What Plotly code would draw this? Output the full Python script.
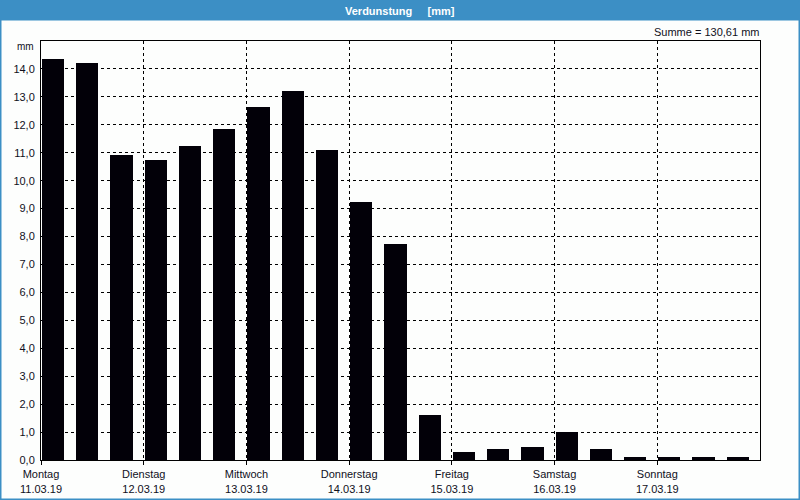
import plotly.graph_objects as go

# Data: evaporation per 8-hour period (3 per day), mm
values = [14.37, 14.22, 10.93,
          10.75, 11.25, 11.86,
          12.65, 13.22, 11.11,
          9.22, 7.75, 1.60,
          0.29, 0.38, 0.45,
          1.00, 0.38, 0.10,
          0.10, 0.10, 0.10]
day_names = ["Montag", "Dienstag", "Mittwoch", "Donnerstag", "Freitag", "Samstag", "Sonntag"]
day_dates = ["11.03.19", "12.03.19", "13.03.19", "14.03.19", "15.03.19", "16.03.19", "17.03.19"]
y_ticks = [0, 1, 2, 3, 4, 5, 6, 7, 8, 9, 10, 11, 12, 13, 14]
title_text = "Verdunstung&nbsp;&nbsp;&nbsp;&nbsp; [mm]"
sum_text = "Summe = 130,61 mm"

W, H = 800, 500
L, R, T, B = 41, 40, 41, 40
pw, ph = W - L - R, H - T - B

def px_x(px):
    return (px - L) / pw

def px_y(py):
    return (H - B - py) / ph

periods = list(range(len(values)))
tickvals = [3 * i for i in range(len(day_names))]
ticktext = [f"{n}<br>{d}" for n, d in zip(day_names, day_dates)]

FONT = "Liberation Sans"
TXT = "#10101c"
BLUE = "#3c8fc5"

fig = go.Figure()
fig.add_trace(go.Bar(
    x=periods, y=values, width=0.65, offset=0.027,
    marker=dict(color="#020008", line=dict(width=0)),
    hoverinfo="x+y",
))

fig.update_layout(
    width=W, height=H,
    margin=dict(l=L, r=R, t=T, b=B, pad=0),
    paper_bgcolor="#fdfefd", plot_bgcolor="#fdfefd",
    separators=",.",
    showlegend=False,
    font=dict(family=FONT, size=11, color=TXT),
    bargap=0,
)
fig.update_xaxes(
    range=[0, 21], tickmode="array", tickvals=tickvals, ticktext=ticktext,
    showgrid=True, gridcolor="black", gridwidth=1, griddash="3px,3px",
    showline=True, linecolor="black", linewidth=1, mirror=True,
    ticks="outside", ticklen=4, tickcolor="black",
    zeroline=False, fixedrange=True, automargin=False,
    tickfont=dict(family=FONT, size=11, color=TXT),
)
fig.update_yaxes(
    range=[0, 15], tickmode="array", tickvals=y_ticks, tickformat=".1f",
    showgrid=True, gridcolor="black", gridwidth=1, griddash="3px,3px",
    showline=True, linecolor="black", linewidth=1, mirror=True,
    ticks="", zeroline=False, fixedrange=True, ticklabelstandoff=3, automargin=False,
    tickfont=dict(family=FONT, size=11, color=TXT),
)

# title bar
fig.add_shape(type="rect", xref="paper", yref="paper",
              x0=px_x(0), x1=px_x(W), y0=px_y(20.5), y1=px_y(0),
              fillcolor=BLUE, line=dict(width=0), layer="below")
# window border
fig.add_shape(type="rect", xref="paper", yref="paper",
              x0=px_x(0.75), x1=px_x(W - 0.75), y0=px_y(H - 0.75), y1=px_y(0.75),
              fillcolor="rgba(0,0,0,0)", line=dict(color=BLUE, width=1.5))

fig.add_annotation(text=f"<b>{title_text}</b>", xref="paper", yref="paper",
                   x=px_x(400), y=px_y(10.5), xanchor="center", yanchor="middle",
                   showarrow=False, font=dict(family=FONT, size=11, color="white"))
fig.add_annotation(text=sum_text, xref="paper", yref="paper",
                   x=px_x(761), y=px_y(32), xanchor="right", yanchor="middle",
                   showarrow=False, font=dict(family=FONT, size=11, color=TXT))
fig.add_annotation(text="mm", xref="paper", yref="paper",
                   x=px_x(36), y=px_y(46), xanchor="right", yanchor="middle",
                   showarrow=False, font=dict(family=FONT, size=10, color=TXT))

fig.write_html("out.html", config={"displayModeBar": False},
               post_script="document.body.style.margin='0';document.body.style.overflow='hidden';")
